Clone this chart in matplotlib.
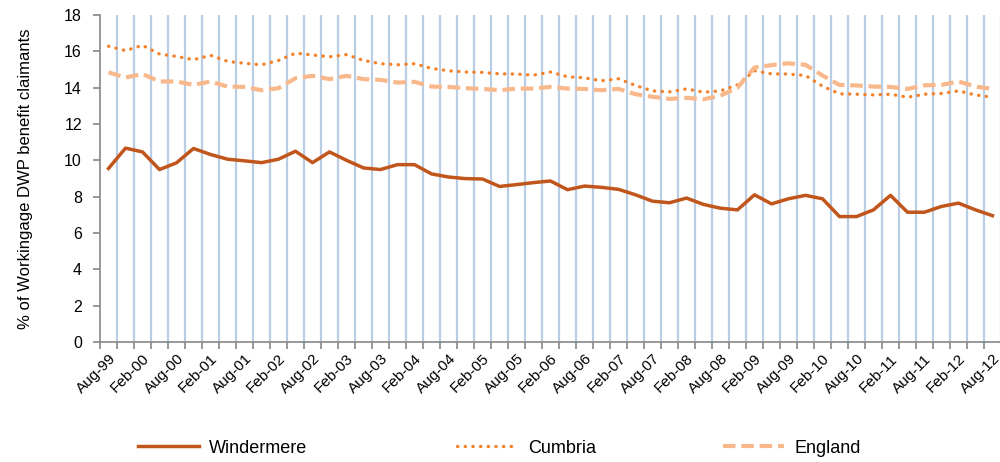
import numpy as np
import matplotlib
matplotlib.use('Agg')
import matplotlib.pyplot as plt

plt.rcParams['font.family'] = ['Liberation Sans', 'DejaVu Sans']

## Data (quarterly, Aug-99 to Aug-12)

quarters = ['Aug-99', 'Nov-99', 'Feb-00', 'May-00', 'Aug-00', 'Nov-00', 'Feb-01', 'May-01',
            'Aug-01', 'Nov-01', 'Feb-02', 'May-02', 'Aug-02', 'Nov-02', 'Feb-03', 'May-03',
            'Aug-03', 'Nov-03', 'Feb-04', 'May-04', 'Aug-04', 'Nov-04', 'Feb-05', 'May-05',
            'Aug-05', 'Nov-05', 'Feb-06', 'May-06', 'Aug-06', 'Nov-06', 'Feb-07', 'May-07',
            'Aug-07', 'Nov-07', 'Feb-08', 'May-08', 'Aug-08', 'Nov-08', 'Feb-09', 'May-09',
            'Aug-09', 'Nov-09', 'Feb-10', 'May-10', 'Aug-10', 'Nov-10', 'Feb-11', 'May-11',
            'Aug-11', 'Nov-11', 'Feb-12', 'May-12', 'Aug-12']

windermere = [9.55, 10.67, 10.46, 9.49, 9.86, 10.65, 10.32, 10.06, 9.97, 9.87, 10.06, 10.5, 9.87,
              10.46, 10.0, 9.58, 9.49, 9.76, 9.76, 9.25, 9.08, 8.99, 8.97, 8.56, 8.66, 8.77,
              8.86, 8.38, 8.58, 8.51, 8.4, 8.1, 7.75, 7.66, 7.92, 7.57, 7.36, 7.27, 8.1, 7.6,
              7.88, 8.07, 7.88, 6.9, 6.9, 7.27, 8.07, 7.14, 7.14, 7.46, 7.64, 7.27, 6.95]

cumbria = [16.28, 16.04, 16.33, 15.85, 15.72, 15.54, 15.78, 15.45, 15.34, 15.26, 15.5, 15.9, 15.8,
           15.7, 15.82, 15.5, 15.32, 15.26, 15.32, 15.06, 14.93, 14.86, 14.84, 14.76, 14.75, 14.69,
           14.86, 14.6, 14.54, 14.38, 14.49, 14.12, 13.82, 13.77, 13.93, 13.75, 13.82, 14.15, 14.93, 14.76,
           14.75, 14.67, 14.08, 13.66, 13.64, 13.6, 13.64, 13.47, 13.64, 13.68, 13.82, 13.6, 13.47]

england = [14.84, 14.56, 14.75, 14.34, 14.34, 14.15, 14.34, 14.06, 14.04, 13.86, 13.97, 14.52, 14.65,
           14.47, 14.65, 14.47, 14.43, 14.28, 14.32, 14.06, 14.04, 13.97, 13.93, 13.86, 13.95, 13.95,
           14.04, 13.95, 13.93, 13.86, 13.93, 13.64, 13.5, 13.38, 13.44, 13.36, 13.56, 14.0, 15.11, 15.24,
           15.34, 15.26, 14.67, 14.15, 14.12, 14.06, 14.04, 13.93, 14.13, 14.15, 14.34, 14.06, 13.93]

## Plotting

n = len(quarters)
x = np.arange(n) + 0.5

fig = plt.figure(figsize=(10, 4.62), dpi=100)
ax = fig.add_axes([0.100, 0.26, 0.901, 0.7075])

# vertical gridlines on category boundaries
for k in range(1, n + 1):
    ax.axvline(k, color='#B9CDE5', linewidth=1.6, zorder=0)

l1, = ax.plot(x, windermere, color='#C0561C', linewidth=2.5, solid_joinstyle='round', label='Windermere')
l2, = ax.plot(x, cumbria, color='#F4822A', linewidth=2.4, linestyle=(0, (0.1, 2.2)),
              dash_capstyle='round', label='Cumbria')
l3, = ax.plot(x, england, color='#F9B88B', linewidth=3.0, linestyle=(0, (3, 1.4)), label='England')

ax.set_xlim(0, n)
ax.set_ylim(0, 18)
ax.set_yticks(np.arange(0, 19, 2))

ax.set_xticks(x[::2])
ax.set_xticklabels(quarters[::2], rotation=45, ha='right', va='top', rotation_mode='anchor', fontsize=11)
ax.set_xticks(np.arange(0, n + 1), minor=True)
ax.tick_params(axis='x', which='major', length=0, pad=7)
ax.tick_params(axis='x', which='minor', length=5, color='#868686', width=1.2)
ax.tick_params(axis='y', length=5, color='#868686', width=1.2, labelsize=11.5, pad=8)

for side in ['top', 'right']:
    ax.spines[side].set_visible(False)
for side in ['left', 'bottom']:
    ax.spines[side].set_color('#868686')
    ax.spines[side].set_linewidth(1.2)

ax.set_ylabel('% of Workingage DWP benefit claimants', fontsize=12)
ax.yaxis.set_label_coords(-0.074, 0.5)

# legend entries placed along the bottom
for handle, x0 in zip([l1, l2, l3], [0.138, 0.457, 0.723]):
    fig.legend(handles=[handle], loc='center left', bbox_to_anchor=(x0, 0.03), frameon=False,
               fontsize=13, handlelength=3.4, handletextpad=0.55, borderpad=0, borderaxespad=0)

plt.savefig('out.png', dpi=100)
